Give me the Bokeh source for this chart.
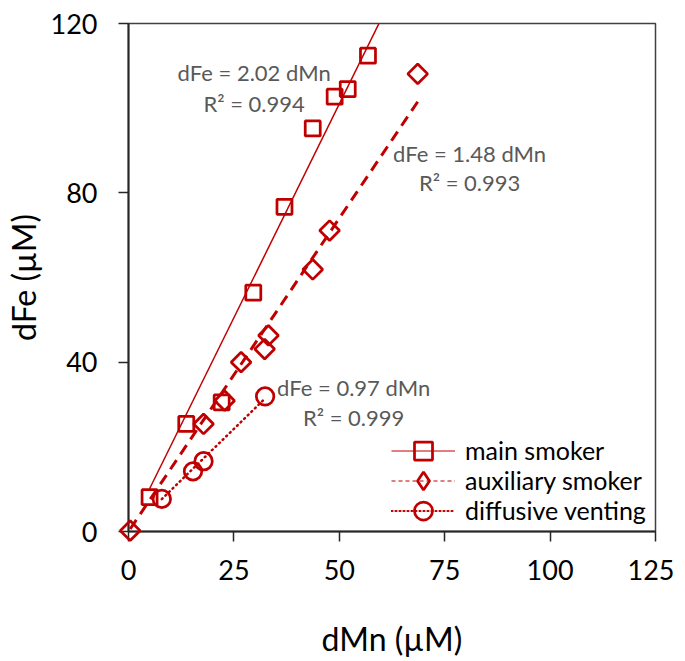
import math
from bokeh.plotting import figure
from bokeh.models import Label, Legend, LegendItem, Range1d, FixedTicker
from bokeh.embed import file_html
from bokeh.resources import INLINE

# ---- data ----
main_mn = [5.0, 13.7, 22.1, 29.6, 37.0, 43.7, 48.9, 52.0, 56.8]
main_fe = [8.1, 25.4, 30.5, 56.4, 76.7, 95.2, 102.7, 104.5, 112.4]

aux_mn = [0.4, 17.8, 22.8, 26.7, 32.3, 33.2, 43.7, 47.7, 68.6]
aux_fe = [0.2, 25.4, 30.9, 40.0, 43.1, 46.3, 61.9, 71.1, 108.1]

diff_mn = [7.9, 15.3, 17.8, 32.4]
diff_fe = [7.7, 14.2, 16.6, 31.9]

series_names = ["main smoker", "auxiliary smoker", "diffusive venting"]
slopes = [2.02, 1.48, 0.97]
r2 = [0.994, 0.993, 0.999]
fit_start = [5.0, 0.4, 7.9]
fit_end = [60.0, 68.6, 32.4]

x_ticks = [0, 25, 50, 75, 100, 125]
y_ticks = [0, 40, 80, 120]

RED = "#C00000"
FONT = "Lato"
NAN = float("nan")

p = figure(frame_width=527, frame_height=508,
           min_border_left=123, min_border_right=19,
           min_border_top=23, min_border_bottom=110,
           x_range=Range1d(0, 125), y_range=Range1d(0, 120),
           output_backend="svg", toolbar_location=None,
           background_fill_color="white", border_fill_color="white")

p.xgrid.visible = False
p.ygrid.visible = False
p.outline_line_color = "#404040"
p.outline_line_width = 1.5

for ax in (p.xaxis[0], p.yaxis[0]):
    ax.axis_line_color = "#262626"
    ax.axis_line_width = 2
    ax.major_tick_line_color = "#262626"
    ax.major_tick_line_width = 1.5
    ax.major_tick_out = 10
    ax.major_tick_in = 0
    ax.minor_tick_out = 0
    ax.minor_tick_in = 0
    ax.major_label_text_font = FONT
    ax.major_label_text_font_size = "27px"
    ax.major_label_text_color = "black"
    ax.axis_label_text_font = FONT
    ax.axis_label_text_font_size = "32px"
    ax.axis_label_text_font_style = "normal"
    ax.axis_label_text_color = "black"

p.xaxis.ticker = FixedTicker(ticks=x_ticks, minor_ticks=[])
p.yaxis.ticker = FixedTicker(ticks=y_ticks, minor_ticks=[])
p.xaxis.axis_label = "dMn (µM)"
p.yaxis.axis_label = "dFe (µM)"
p.xaxis.major_label_standoff = 18
p.yaxis.major_label_standoff = 21
p.xaxis.axis_label_standoff = 36
p.yaxis.axis_label_standoff = 5

# fit lines
fit_styles = [dict(line_width=1.5),
              dict(line_width=3, line_dash="11 7"),
              dict(line_width=2.5, line_dash="1 4", line_cap="round")]
for k in range(3):
    xs = [fit_start[k], fit_end[k]]
    ys = [slopes[k] * v for v in xs]
    p.line(xs, ys, line_color=RED, **fit_styles[k])

# markers
r_main = p.scatter(main_mn, main_fe, marker="square", size=15,
                   fill_color=None, line_color=RED, line_width=2.75)
r_aux = p.scatter(aux_mn, aux_fe, marker="square", angle=math.pi / 4, size=14,
                  fill_color=None, line_color=RED, line_width=2.75)
r_diff = p.scatter(diff_mn, diff_fe, marker="circle", size=17.5,
                   fill_color=None, line_color=RED, line_width=2.75)
for r in (r_main, r_aux, r_diff):
    r.level = "overlay"

# legend-only renderers (no visible data)
lg_lines = [
    p.line([NAN], [NAN], line_color=RED, line_width=1.2),
    p.line([NAN], [NAN], line_color=RED, line_width=1.2, line_dash="4 3"),
    p.line([NAN], [NAN], line_color=RED, line_width=2.2, line_dash="1 3", line_cap="round"),
]
lg_marks = [
    p.scatter([NAN], [NAN], marker="square", size=15, fill_color=None, line_color=RED, line_width=2.75),
    p.scatter([NAN], [NAN], marker="diamond", size=15, fill_color=None, line_color=RED, line_width=2.75),
    p.scatter([NAN], [NAN], marker="circle", size=15, fill_color=None, line_color=RED, line_width=2.75),
]

legend_y = [58.5, 28.5, -1.5]
for k in range(3):
    lg = Legend(items=[LegendItem(label=series_names[k], renderers=[lg_lines[k], lg_marks[k]])],
                location=(263, legend_y[k]), glyph_width=64, glyph_height=45, spacing=0,
                label_standoff=10, padding=0, margin=0,
                border_line_alpha=0, background_fill_alpha=0,
                label_text_font=FONT, label_text_font_size="25px", label_text_color="black")
    p.add_layout(lg)

# regression annotations
ann_x = [29.8, 80.9, 53.4]
ann_y1 = [108.4, 89.2, 33.9]
ann_y2 = [101.2, 82.4, 26.9]
for k in range(3):
    for yy, txt in ((ann_y1[k], f"dFe = {slopes[k]:.2f} dMn"),
                    (ann_y2[k], f"R² = {r2[k]:.3f}")):
        p.add_layout(Label(x=ann_x[k], y=yy, text=txt, text_align="center",
                           text_baseline="alphabetic", text_font=FONT,
                           text_font_size="22px", text_color="#595959"))

open("out.html", "w").write(file_html(p, INLINE))
